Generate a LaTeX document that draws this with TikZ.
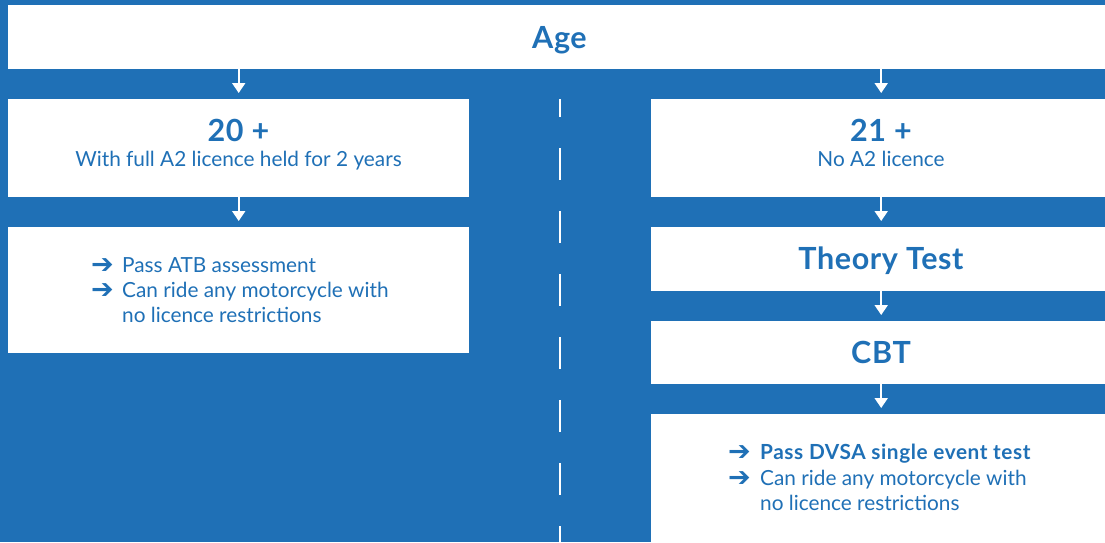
\documentclass[tikz,border=0pt]{standalone}
\usepackage{fontspec}
\setmainfont{Lato}
\newfontfamily\symfont{DejaVu Sans}
\usetikzlibrary{arrows.meta}
\definecolor{dvsa}{RGB}{31,112,182}
\begin{document}
\begin{tikzpicture}[x=1pt,y=-1pt,
  box/.style={fill=white, draw=none, anchor=north west, inner sep=0pt},
  title/.style={font=\fontsize{30.5}{32}\selectfont\bfseries\addfontfeatures{LetterSpace=2}, text=dvsa, inner sep=0pt, anchor=base},
  sub/.style={font=\fontsize{20.8}{25}\selectfont, text=dvsa, inner sep=0pt, anchor=base},
  btxt/.style={font=\fontsize{20.8}{25}\selectfont, text=dvsa, inner sep=0pt, anchor=base west},
  barr/.style={font=\symfont\bfseries\fontsize{27}{25}\selectfont, text=dvsa, inner sep=0pt, anchor=base west},
  arr/.style={draw=white, line width=2pt, -{Triangle[width=13pt,length=10pt]}, shorten >=6pt},
  lane/.style={draw=white, line width=2pt, dash pattern=on 32pt off 31pt, dash phase=14pt}]
\useasboundingbox (0,0) rectangle (1105,542);
\clip (0,0) rectangle (1105,542);
\fill[dvsa] (0,0) rectangle (1105,542);
% boxes
\node[box, minimum width=1103pt, minimum height=64pt] (age) at (8,5) {};
\node[box, minimum width=461pt, minimum height=98pt] (b20) at (8,99) {};
\node[box, minimum width=461pt, minimum height=126pt] (batb) at (8,227) {};
\node[box, minimum width=460pt, minimum height=98pt] (b21) at (651,99) {};
\node[box, minimum width=460pt, minimum height=64pt] (bth) at (651,227) {};
\node[box, minimum width=460pt, minimum height=63pt] (bcbt) at (651,321) {};
\node[box, minimum width=460pt, minimum height=140pt] (bfin) at (651,414) {};
% lane divider
\coordinate (d1) at (560,99);
\coordinate (d2) at (560,542);
\draw[lane] (d1) -- (d2);
% connectors
\draw[arr] (age.south -| b20.north) -- (b20.north);
\draw[arr] (b20.south) -- (batb.north);
\draw[arr] (age.south -| b21.north) -- (b21.north);
\draw[arr] (b21.south) -- (bth.north);
\draw[arr] (bth.south) -- (bcbt.north);
\draw[arr] (bcbt.south) -- (bfin.north);
% texts
\node[title] (tage) at (559.5,48) {Age};
\node[title] (t20) at (238.5,141) {20 +};
\node[sub] (s20) at (238.5,166) {With full A2 licence held for 2 years};
\node[title] (t21) at (881,141) {21 +};
\node[sub] (s21) at (881,166) {No A2 licence};
\node[title] (tth) at (881,269.5) {Theory Test};
\node[title] (tcbt) at (881,363) {CBT};
% left bullets
\node[barr] (la1) at (91,273) {➔};
\node[btxt] (lt1) at (122,272) {Pass ATB assessment};
\node[barr] (la2) at (91,298) {➔};
\node[btxt] (lt2) at (122,297) {Can ride any motorcycle with};
\node[btxt] (lt3) at (122,322) {no licence restrictions};
% right bullets
\node[barr] (ra1) at (728,460) {➔};
\node[btxt, font=\fontsize{20.8}{25}\selectfont\bfseries\addfontfeatures{LetterSpace=2.8}] (rt1) at (760,459) {Pass DVSA single event test};
\node[barr] (ra2) at (728,486) {➔};
\node[btxt] (rt2) at (760,485) {Can ride any motorcycle with};
\node[btxt] (rt3) at (760,510) {no licence restrictions};
\end{tikzpicture}
\end{document}
